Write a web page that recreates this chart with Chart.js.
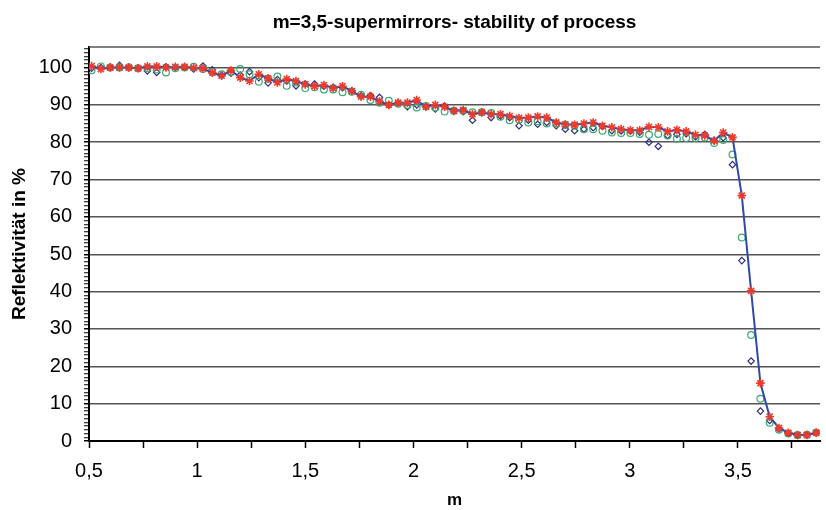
<!DOCTYPE html>
<html lang="en">
<head>
    <meta charset="UTF-8">
    <title>m=3,5-supermirrors- stability of process</title>
    <style>
        html, body { margin: 0; padding: 0; background: #fff; }
        .chart_container { width: 826px; height: 510px; }
    </style>
</head>
<body>
    <div class="chart_container">
        <canvas class="reflChart" width="826" height="510"></canvas>
    </div>
</body>

<script src="https://cdn.jsdelivr.net/npm/chart.js"></script>
<script>
    // m values (same for all three runs)
    const mValues = [
        0.512, 0.555, 0.598, 0.641, 0.684, 0.727, 0.770, 0.813, 0.856, 0.899,
        0.942, 0.984, 1.027, 1.070, 1.113, 1.156, 1.199, 1.242, 1.285, 1.328,
        1.371, 1.414, 1.457, 1.500, 1.543, 1.586, 1.629, 1.672, 1.715, 1.758,
        1.801, 1.843, 1.886, 1.929, 1.972, 2.015, 2.058, 2.101, 2.144, 2.187,
        2.230, 2.273, 2.316, 2.359, 2.402, 2.445, 2.488, 2.531, 2.574, 2.616,
        2.660, 2.702, 2.745, 2.788, 2.831, 2.874, 2.917, 2.960, 3.003, 3.046,
        3.089, 3.132, 3.175, 3.218, 3.261, 3.304, 3.347, 3.390, 3.432, 3.475,
        3.518, 3.561, 3.604, 3.647, 3.690, 3.733, 3.776, 3.819, 3.862
    ];

    // red stars, joined by the blue line
    const redRun = [
        100.4, 99.6, 100.0, 100.0, 100.0, 99.8, 100.3, 100.3, 100.0, 100.2,
        100.2, 99.9, 99.7, 98.6, 97.8, 99.2, 97.3, 96.4, 98.2, 97.1,
        96.0, 96.9, 96.4, 95.5, 95.0, 95.3, 94.5, 95.0, 93.7, 92.2,
        92.2, 90.9, 90.0, 90.6, 90.6, 91.3, 89.5, 90.0, 89.5, 88.4,
        88.6, 87.5, 88.0, 87.5, 87.5, 87.0, 86.5, 86.6, 86.9, 86.6,
        85.3, 84.8, 84.7, 85.0, 85.3, 84.4, 84.0, 83.5, 83.2, 83.2,
        84.1, 84.0, 82.9, 83.3, 82.9, 82.0, 81.8, 80.4, 82.6, 81.3,
        65.7, 40.2, 15.5, 6.5, 3.5, 2.2, 1.6, 1.6, 2.2
    ];

    // green circles
    const greenRun = [
        99.3, 100.3, 100.0, 100.0, 100.1, 99.8, 99.8, 99.5, 98.7, 99.8,
        100.0, 100.2, 99.6, 98.8, 98.2, 98.8, 99.6, 98.2, 96.2, 97.0,
        97.6, 95.1, 96.0, 94.5, 94.7, 94.1, 94.1, 93.4, 93.5, 92.7,
        91.3, 90.6, 91.1, 90.3, 90.0, 89.3, 89.7, 89.3, 88.2, 88.4,
        88.4, 88.0, 88.0, 87.8, 86.8, 85.9, 86.0, 85.3, 85.6, 85.0,
        85.0, 84.6, 84.4, 83.5, 83.5, 83.1, 82.6, 82.5, 82.5, 82.2,
        82.0, 82.2, 81.8, 80.9, 81.1, 81.1, 81.3, 79.8, 80.6, 76.7,
        54.5, 28.4, 11.3, 4.9, 3.0, 2.0, 1.6, 1.7, 2.3
    ];

    // blue diamonds
    const blueRun = [
        99.8, 100.0, 100.1, 100.6, 100.0, 99.8, 99.1, 98.7, 100.2, 100.0,
        100.0, 99.6, 100.4, 99.4, 97.9, 98.5, 98.0, 98.9, 97.3, 95.9,
        96.8, 96.4, 95.1, 95.6, 95.6, 95.0, 94.7, 94.6, 93.8, 92.4,
        92.5, 92.0, 90.0, 90.5, 89.5, 90.0, 89.6, 88.9, 89.7, 88.4,
        88.2, 85.9, 88.0, 86.6, 87.0, 86.6, 84.4, 85.9, 84.8, 85.3,
        84.4, 83.5, 83.1, 83.5, 83.9, 84.2, 83.1, 83.0, 83.0, 82.7,
        80.0, 78.9, 81.8, 82.1, 82.3, 81.5, 82.1, 80.5, 81.2, 74.0,
        48.3, 21.4, 8.0, 5.5, 3.2, 2.0, 1.5, 1.7, 2.2
    ];

    const xMajorTicks = [0.5, 1, 1.5, 2, 2.5, 3, 3.5];
    const xTickLabels = ['0,5', '1', '1,5', '2', '2,5', '3', '3,5'];
    const yTickLabels = ['0', '10', '20', '30', '40', '50', '60', '70', '80', '90', '100'];

    const FONT = "'Liberation Sans', Arial, sans-serif";

    function pts(ys) {
        return mValues.map((m, i) => ({ x: m, y: ys[i] }));
    }

    // top frame line
    const frameTop = {
        id: 'frameTop',
        beforeDatasetsDraw(chart) {
            const a = chart.chartArea, ctx = chart.ctx;
            ctx.save();
            ctx.strokeStyle = '#555';
            ctx.lineWidth = 1.5;
            ctx.beginPath();
            ctx.moveTo(a.left, a.top);
            ctx.lineTo(a.right, a.top);
            ctx.stroke();
            ctx.restore();
        }
    };

    const ctxEl = document.querySelector('.reflChart');
    const reflChart = new Chart(ctxEl, {
        type: 'scatter',
        data: {
            datasets: [
                {
                    label: 'run 3',
                    data: pts(redRun),
                    showLine: true,
                    borderColor: '#2f49a8',
                    borderWidth: 2,
                    pointStyle: 'star',
                    pointRadius: 4.3,
                    pointBorderColor: '#ee3a2c',
                    pointBackgroundColor: '#ee3a2c',
                    pointBorderWidth: 1.6,
                    order: 0
                },
                {
                    label: 'run 2',
                    data: pts(greenRun),
                    pointStyle: 'circle',
                    pointRadius: 3.4,
                    borderColor: '#3aaa72',
                    backgroundColor: 'rgba(0,0,0,0)',
                    pointBorderWidth: 1.2,
                    order: 1
                },
                {
                    label: 'run 1',
                    data: pts(blueRun),
                    pointStyle: 'rectRot',
                    pointRadius: 3.2,
                    borderColor: '#2c2c82',
                    backgroundColor: 'rgba(0,0,0,0)',
                    pointBorderWidth: 1.2,
                    order: 2
                }
            ]
        },
        options: {
            responsive: false,
            animation: false,
            layout: { padding: 0 },
            plugins: {
                legend: { display: false },
                tooltip: { enabled: false },
                title: {
                    display: true,
                    text: 'm=3,5-supermirrors- stability of process',
                    fullSize: false,
                    color: '#000',
                    font: { family: FONT, size: 19, weight: 'bold', lineHeight: 1.2 },
                    padding: { top: 11, bottom: 13.2 }
                }
            },
            scales: {
                x: {
                    type: 'linear',
                    min: 0.5,
                    max: 3.88,
                    afterBuildTicks(s) {
                        const t = [];
                        xMajorTicks.forEach(v => { t.push({ value: v }); if (v + 0.25 <= 3.88) t.push({ value: v + 0.25 }); });
                        s.ticks = t;
                    },
                    afterFit(s) { s.height = 69; },
                    ticks: {
                        autoSkip: false,
                        maxRotation: 0,
                        color: '#000',
                        padding: 11,
                        font: { family: FONT, size: 20 },
                        callback(v) {
                            const i = xMajorTicks.indexOf(v);
                            return i >= 0 ? xTickLabels[i] : '';
                        }
                    },
                    grid: { drawOnChartArea: false, tickLength: 7, tickColor: '#000', tickWidth: 1.5 },
                    border: { color: '#000', width: 2 },
                    title: {
                        display: true,
                        text: 'm',
                        color: '#000',
                        font: { family: FONT, size: 17, weight: 'bold', lineHeight: 1.2 },
                        padding: { top: 0, bottom: -1 }
                    }
                },
                y: {
                    min: 0,
                    max: 105.5,
                    afterBuildTicks(s) {
                        const t = [];
                        for (let v = 0; v <= 105; v++) t.push({ value: v });
                        s.ticks = t;
                    },
                    afterFit(s) { s.width = 89; },
                    ticks: {
                        autoSkip: false,
                        color: '#000',
                        padding: 12,
                        font: { family: FONT, size: 20 },
                        callback(v) {
                            return v % 10 === 0 ? yTickLabels[v / 10] : '';
                        }
                    },
                    grid: {
                        tickLength: 5,
                        color: c => (c.tick && c.tick.value % 10 === 0 && c.tick.value > 0) ? '#555' : 'rgba(0,0,0,0)',
                        lineWidth: 1.5,
                        tickColor: '#000',
                        tickWidth: c => (c.tick && c.tick.value % 10 === 0) ? 1.5 : 1
                    },
                    border: { color: '#000', width: 2 },
                    title: {
                        display: true,
                        text: 'Reflektivität in %',
                        color: '#000',
                        font: { family: FONT, size: 19, weight: 'bold', lineHeight: 1.2 },
                        padding: { top: 8, bottom: 0 }
                    }
                }
            }
        },
        plugins: [frameTop]
    });
</script>
</html>
